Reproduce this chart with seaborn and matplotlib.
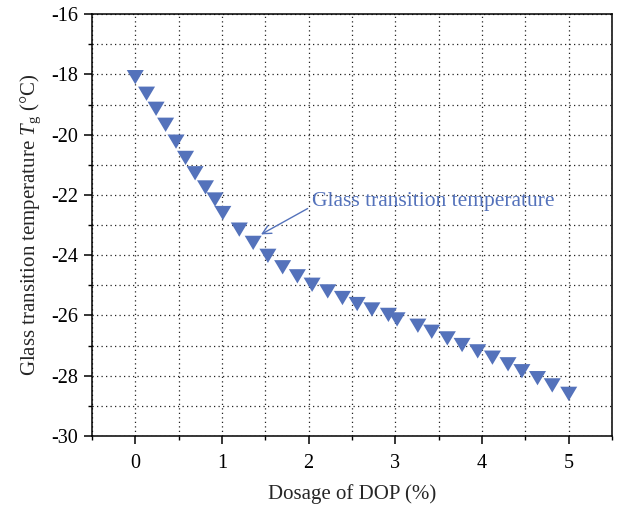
import numpy as np
import pandas as pd
import seaborn as sns
import matplotlib
matplotlib.use("Agg")
import matplotlib.pyplot as plt
from matplotlib.ticker import MultipleLocator
from matplotlib.markers import MarkerStyle

# Data
dosage = [0.0, 0.13, 0.24, 0.35, 0.47, 0.58, 0.69, 0.81, 0.92, 1.01,
          1.20, 1.36, 1.53, 1.70, 1.87, 2.04, 2.22, 2.39, 2.56, 2.73,
          2.92, 3.02, 3.26, 3.42, 3.60, 3.77, 3.95, 4.12, 4.30, 4.46,
          4.64, 4.81, 5.0]
tg = [-18.09, -18.64, -19.14, -19.67, -20.23, -20.77, -21.28, -21.75, -22.15, -22.60,
      -23.15, -23.59, -24.02, -24.40, -24.70, -24.98, -25.20, -25.42, -25.62, -25.80,
      -25.98, -26.13, -26.34, -26.54, -26.76, -26.98, -27.19, -27.40, -27.62, -27.85,
      -28.08, -28.32, -28.60]
x_ticks = [0, 1, 2, 3, 4, 5]
y_ticks = [-16, -18, -20, -22, -24, -26, -28, -30]
annotation_text = "Glass transition temperature"

df = pd.DataFrame({"dosage": dosage, "tg": tg})

sns.set_style("ticks")
plt.rcParams["font.family"] = ["Liberation Serif", "DejaVu Serif"]
plt.rcParams["mathtext.fontset"] = "custom"
plt.rcParams["mathtext.rm"] = "Liberation Serif"
plt.rcParams["mathtext.it"] = "Liberation Serif:italic"
plt.rcParams["axes.unicode_minus"] = False

blue = "#5472bb"

fig = plt.figure(figsize=(6.17, 5.07), dpi=100)
ax = fig.add_axes([0.149, 0.140, 0.992 - 0.149, 0.972 - 0.140])

tri = MarkerStyle([(-1, 0.84), (1, 0.84), (0, -0.84)])
sns.scatterplot(data=df, x="dosage", y="tg", marker=tri, s=150, color=blue,
                edgecolor="none", linewidth=0, ax=ax, zorder=3)

ax.set_xlim(-0.5, 5.5)
ax.set_ylim(-30, -16)
ax.set_xticks(x_ticks)
ax.set_yticks(y_ticks)
ax.set_xticklabels([str(v) for v in x_ticks])
ax.set_yticklabels([str(v) for v in y_ticks])
ax.xaxis.set_minor_locator(MultipleLocator(0.5))
ax.yaxis.set_minor_locator(MultipleLocator(1))

ax.set_axisbelow(True)
ax.grid(which="both", linestyle=(0, (1, 2.6)), color="#222222", linewidth=0.9)

for s in ax.spines.values():
    s.set_color("black")
    s.set_linewidth(1.1)

ax.tick_params(which="both", bottom=True, left=True, top=False, right=False,
               direction="out", colors="black")
ax.tick_params(which="major", length=6, width=1.1, labelsize=14.5)
ax.tick_params(which="minor", length=3, width=1.0)
ax.tick_params(axis="x", which="major", pad=7)
ax.tick_params(axis="y", which="major", pad=4)

ax.set_xlabel("Dosage of DOP (%)", fontsize=15, labelpad=8)
ax.set_ylabel(r"Glass transition temperature $T_{\mathrm{g}}$ (°C)", fontsize=15, labelpad=6)

ax.annotate(annotation_text, xy=(1.45, -23.31), xytext=(2.04, -22.21),
            color=blue, fontsize=15.5, ha="left", va="center",
            arrowprops=dict(arrowstyle="->", color=blue, lw=1.0,
                            shrinkA=1, shrinkB=0, relpos=(0, 0.25)))

fig.savefig("out.png", dpi=100)
